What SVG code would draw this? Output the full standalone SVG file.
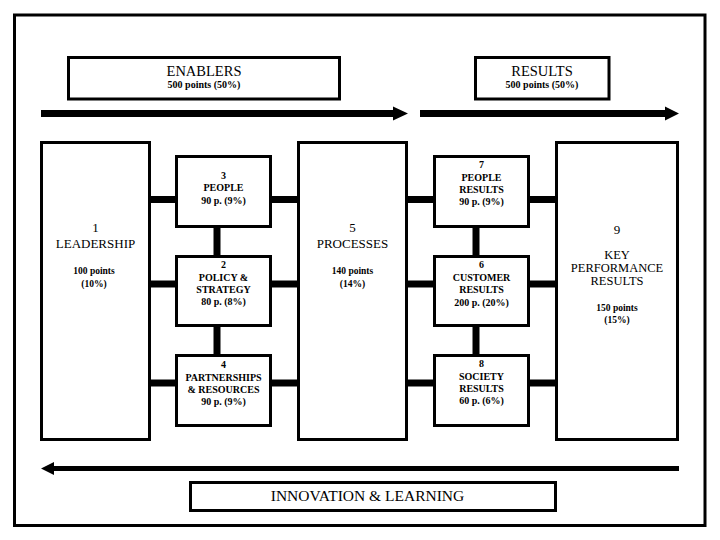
<svg xmlns="http://www.w3.org/2000/svg" width="720" height="540" viewBox="0 0 720 540">
<style>
.box{fill:#fff;stroke:#000;stroke-width:3}
.t{font-family:"Liberation Serif","Times New Roman",serif;text-anchor:middle;fill:#000}
.h{font-size:14.5px}
.m{font-size:13px}
.k{font-size:12.5px}
.s{font-size:10px;font-weight:bold}
.p{font-size:9.5px;font-weight:bold}
.c{stroke:#000;stroke-width:7;fill:none}
.arr{fill:#000}
</style>
<rect width="720" height="540" fill="#fff"/>
<rect id="frame" x="14.5" y="15" width="690.5" height="510.5" fill="none" stroke="#000" stroke-width="3"/>

<g id="enablers">
<rect class="box" x="68.5" y="57.5" width="271" height="41.5"/>
<text class="t h" x="204" y="76">ENABLERS</text>
<text class="t s" x="204" y="88">500 points (50%)</text>
</g>
<g id="results">
<rect class="box" x="475.5" y="57.5" width="133.5" height="41.5"/>
<text class="t h" x="542" y="76">RESULTS</text>
<text class="t s" x="542" y="88">500 points (50%)</text>
</g>

<g id="arrows">
<path class="arr" d="M41 110 H393 V106.5 L408 113.5 L393 120.5 V117 H41 Z"/>
<path class="arr" d="M420 110 H665 V106.5 L679 113.5 L665 120.5 V117 H420 Z"/>
<path class="arr" d="M679 466 H54 V462 L41 468.5 L54 475 V471 H679 Z"/>
</g>

<g id="connectors">
<line class="c" x1="149.5" y1="199.5" x2="176.5" y2="199.5"/>
<line class="c" x1="149.5" y1="284" x2="176.5" y2="284"/>
<line class="c" x1="149.5" y1="383" x2="176.5" y2="383"/>
<line class="c" x1="270.5" y1="199.5" x2="298.5" y2="199.5"/>
<line class="c" x1="270.5" y1="284" x2="298.5" y2="284"/>
<line class="c" x1="270.5" y1="383" x2="298.5" y2="383"/>
<line class="c" x1="406.5" y1="199.5" x2="434.5" y2="199.5"/>
<line class="c" x1="406.5" y1="284" x2="434.5" y2="284"/>
<line class="c" x1="406.5" y1="383" x2="434.5" y2="383"/>
<line class="c" x1="528.5" y1="199.5" x2="556.5" y2="199.5"/>
<line class="c" x1="528.5" y1="284" x2="556.5" y2="284"/>
<line class="c" x1="528.5" y1="383" x2="556.5" y2="383"/>
<line class="c" x1="217" y1="226.5" x2="217" y2="256.5"/>
<line class="c" x1="217" y1="325.5" x2="217" y2="355.5"/>
<line class="c" x1="476" y1="226.5" x2="476" y2="256.5"/>
<line class="c" x1="476" y1="325.5" x2="476" y2="355.5"/>
</g>

<g id="leadership">
<rect class="box" x="41.5" y="142.5" width="108" height="297"/>
<text class="t m" x="95.5" y="232">1</text>
<text class="t m" x="95.5" y="248">LEADERSHIP</text>
<text class="t p" x="94" y="274">100 points</text>
<text class="t p" x="94" y="287">(10%)</text>
</g>
<g id="people">
<rect class="box" x="176.5" y="156.5" width="94" height="70"/>
<text class="t s" x="223.5" y="178.5">3</text>
<text class="t s" x="223.5" y="191">PEOPLE</text>
<text class="t s" x="223.5" y="204">90 p. (9%)</text>
</g>
<g id="policy">
<rect class="box" x="176.5" y="256.5" width="94" height="69"/>
<text class="t s" x="223.5" y="268">2</text>
<text class="t s" x="223.5" y="281">POLICY &amp;</text>
<text class="t s" x="223.5" y="293">STRATEGY</text>
<text class="t s" x="223.5" y="305">80 p. (8%)</text>
</g>
<g id="partnerships">
<rect class="box" x="176.5" y="355.5" width="94" height="70"/>
<text class="t s" x="223.5" y="368">4</text>
<text class="t s" x="223.5" y="381">PARTNERSHIPS</text>
<text class="t s" x="223.5" y="393">&amp; RESOURCES</text>
<text class="t s" x="223.5" y="405">90 p. (9%)</text>
</g>
<g id="processes">
<rect class="box" x="298.5" y="142.5" width="108" height="297"/>
<text class="t m" x="352.5" y="232">5</text>
<text class="t m" x="352.5" y="248">PROCESSES</text>
<text class="t p" x="352.5" y="274">140 points</text>
<text class="t p" x="352.5" y="287">(14%)</text>
</g>
<g id="people-results">
<rect class="box" x="434.5" y="156.5" width="94" height="70"/>
<text class="t s" x="481.5" y="168">7</text>
<text class="t s" x="481.5" y="181">PEOPLE</text>
<text class="t s" x="481.5" y="193">RESULTS</text>
<text class="t s" x="481.5" y="205">90 p. (9%)</text>
</g>
<g id="customer-results">
<rect class="box" x="434.5" y="256.5" width="94" height="69"/>
<text class="t s" x="481.5" y="268">6</text>
<text class="t s" x="481.5" y="281">CUSTOMER</text>
<text class="t s" x="481.5" y="293">RESULTS</text>
<text class="t s" x="481.5" y="306">200 p. (20%)</text>
</g>
<g id="society-results">
<rect class="box" x="434.5" y="355.5" width="94" height="70"/>
<text class="t s" x="481.5" y="367">8</text>
<text class="t s" x="481.5" y="380">SOCIETY</text>
<text class="t s" x="481.5" y="392">RESULTS</text>
<text class="t s" x="481.5" y="404">60 p. (6%)</text>
</g>
<g id="key-performance">
<rect class="box" x="556.5" y="142.5" width="121" height="297"/>
<text class="t m" x="617" y="234">9</text>
<text class="t k" x="617" y="259">KEY</text>
<text class="t k" x="617" y="272">PERFORMANCE</text>
<text class="t k" x="617" y="285">RESULTS</text>
<text class="t p" x="617" y="311">150 points</text>
<text class="t p" x="617" y="323">(15%)</text>
</g>
<g id="innovation">
<rect class="box" x="190.5" y="482.5" width="365" height="28"/>
<text class="t" style="font-size:15.5px" x="367.5" y="500.5">INNOVATION &amp; LEARNING</text>
</g>
</svg>
